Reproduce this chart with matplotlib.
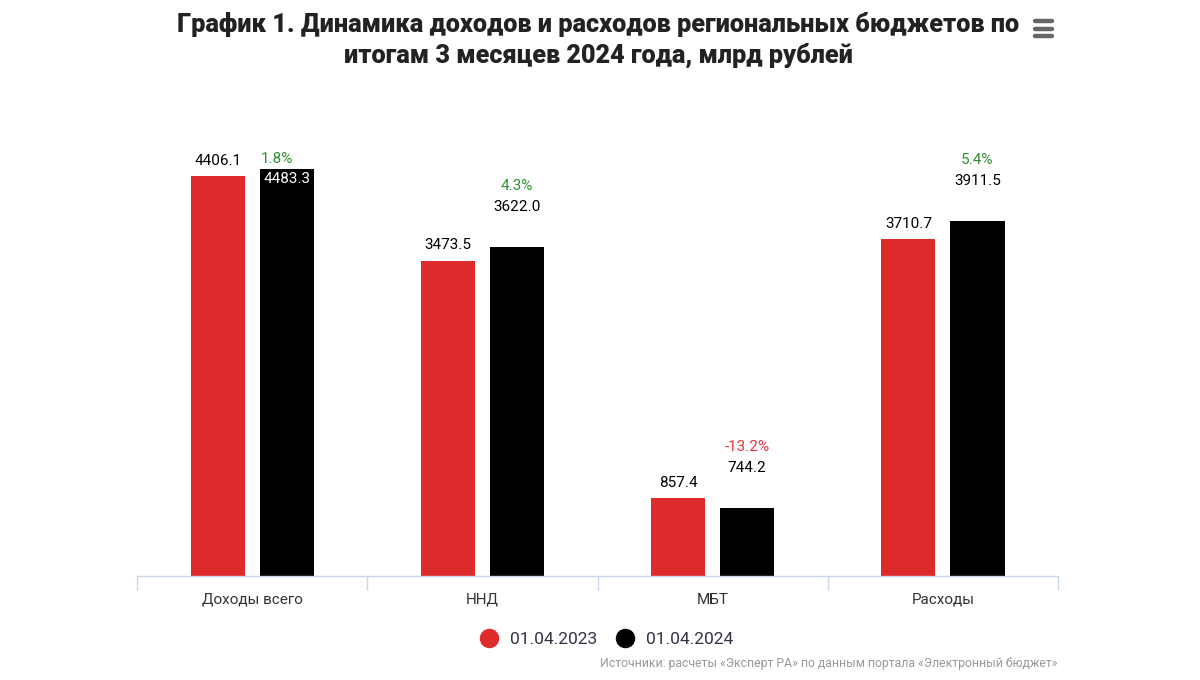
import matplotlib.pyplot as plt
import matplotlib.lines as mlines
import numpy as np

plt.rcParams['font.family'] = ['Roboto', 'DejaVu Sans']

categories = ['Доходы всего', 'ННД', 'МБТ', 'Расходы']
values_2023 = [4406.1, 3473.5, 857.4, 3710.7]
values_2024 = [4483.3, 3622.0, 744.2, 3911.5]
changes = ['1.8%', '4.3%', '-13.2%', '5.4%']
series_names = ['01.04.2023', '01.04.2024']

RED = '#dd2a2b'
BLACK = '#000000'
GREEN = '#2f8f2f'
NEG = '#e0353a'
AXIS = '#ccd6eb'

fig = plt.figure(figsize=(12, 6.8), dpi=100)
ax = fig.add_axes([0.1142, 0.1529, 0.7675, 0.6677])

x = np.arange(len(categories))
w = 0.235
off = 0.15
ax.bar(x - off, values_2023, width=w, color=RED)
ax.bar(x + off, values_2024, width=w, color=BLACK)

ax.set_xlim(-0.5, len(categories) - 0.5)
ax.set_ylim(0, 5000)
for s in ['top', 'right', 'left']:
    ax.spines[s].set_visible(False)
ax.spines['bottom'].set_color(AXIS)
ax.spines['bottom'].set_linewidth(1)
ax.set_yticks([])
ax.set_xticks(np.arange(-0.5, len(categories), 1.0))
ax.set_xticklabels([])
ax.tick_params(axis='x', length=10, color=AXIS, width=1)
ax.set_xticks(x, minor=True)
ax.set_xticklabels(categories, minor=True, fontsize=11, color='#333333')
ax.tick_params(axis='x', which='minor', length=0, pad=12)

for i in range(len(categories)):
    ax.annotate(f'{values_2023[i]:.1f}', (x[i] - off, values_2023[i]),
                xytext=(0, 6), textcoords='offset points', ha='center', va='bottom',
                fontsize=11, color='black')
    pc = GREEN if not changes[i].startswith('-') else NEG
    if i == 0:
        # label pushed inside the bar near the top of the plot
        ax.annotate(f'{values_2024[i]:.1f}', (x[i] + off, values_2024[i]),
                    xytext=(0, -2), textcoords='offset points', ha='center', va='top',
                    fontsize=11, color='white')
        ax.annotate(changes[i], (x[i] + off, values_2024[i]),
                    xytext=(-7, 2), textcoords='offset points', ha='center', va='bottom',
                    fontsize=11, color=pc)
    else:
        ax.annotate(f'{values_2024[i]:.1f}', (x[i] + off, values_2024[i]),
                    xytext=(0, 24), textcoords='offset points', ha='center', va='bottom',
                    fontsize=11, color='black')
        ax.annotate(changes[i], (x[i] + off, values_2024[i]),
                    xytext=(0, 39), textcoords='offset points', ha='center', va='bottom',
                    fontsize=11, color=pc)

fig.text(0.4985, 0.983, 'График 1. Динамика доходов и расходов региональных бюджетов по\n'
         'итогам 3 месяцев 2024 года, млрд рублей', ha='center', va='top',
         fontsize=18.2, fontweight='black', color='#222222', linespacing=1.3)

# menu icon
for yy in [0.9465, 0.9575, 0.9685]:
    fig.add_artist(mlines.Line2D([0.8625, 0.8765], [yy, yy], color='#666666',
                                 linewidth=3.2, solid_capstyle='round'))

handles = [mlines.Line2D([], [], marker='o', linestyle='', markersize=13, color=RED),
           mlines.Line2D([], [], marker='o', linestyle='', markersize=13, color=BLACK)]
fig.legend(handles, series_names, loc='center', bbox_to_anchor=(0.502, 0.06),
           ncol=2, frameon=False, fontsize=12.5, handletextpad=0.2, columnspacing=0.6,
           labelcolor='#333344')

fig.text(0.881, 0.025, 'Источники: расчеты «Эксперт РА» по данным портала «Электронный бюджет»',
         ha='right', va='center', fontsize=8.8, color='#999999')

fig.savefig('out.png', dpi=100)
